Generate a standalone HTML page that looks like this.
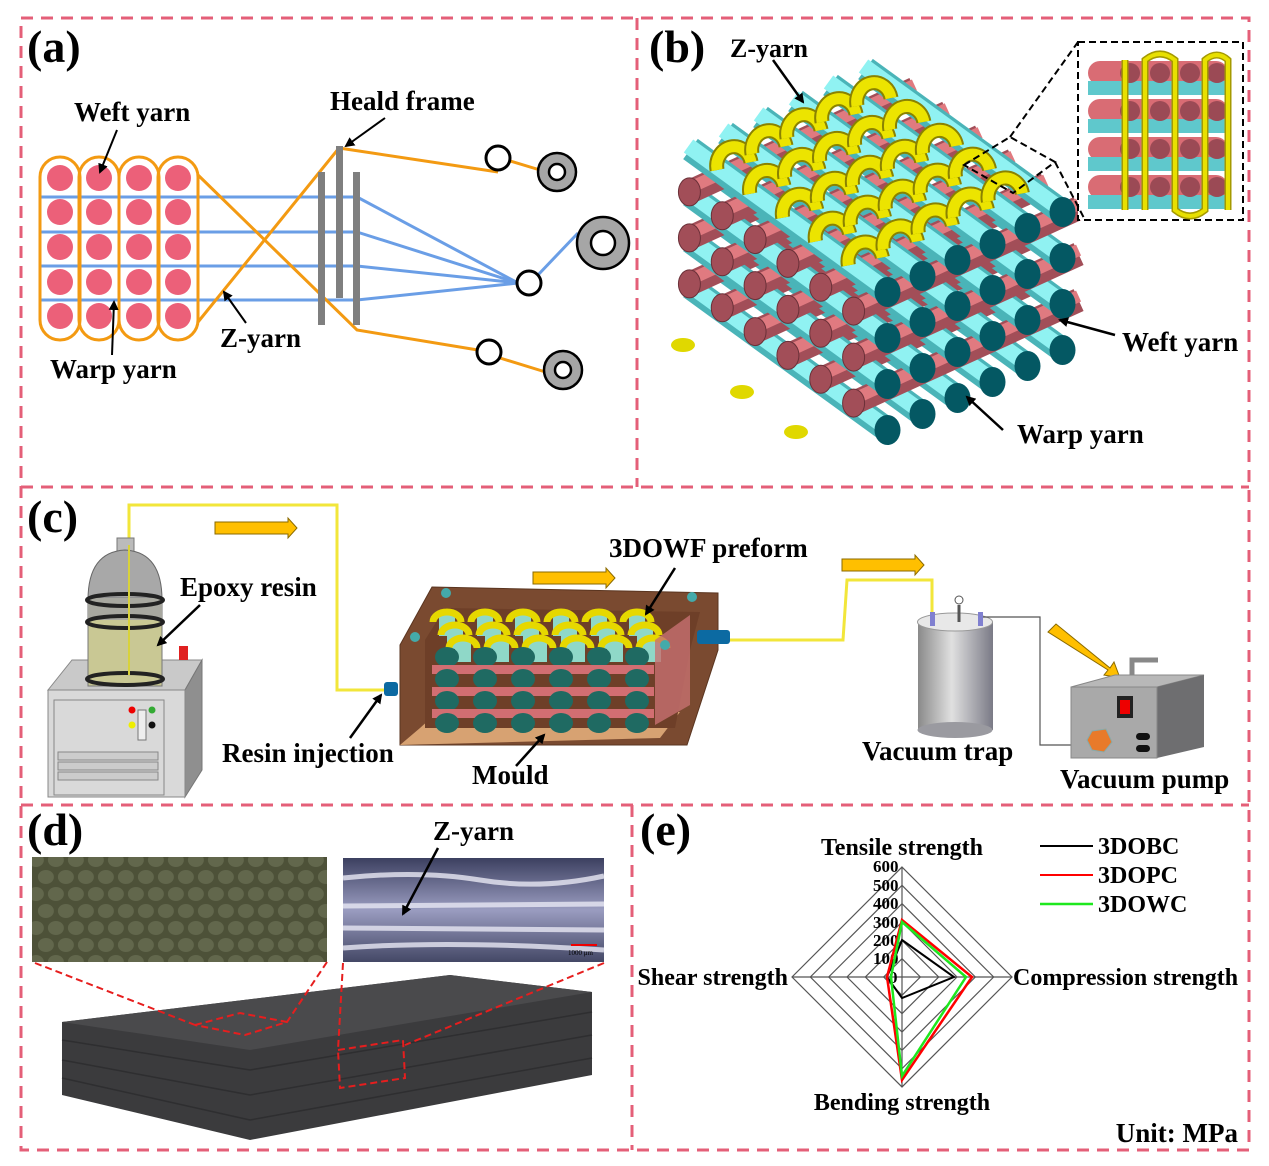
<!DOCTYPE html>
<html><head><meta charset="utf-8"><style>
html,body{margin:0;padding:0;background:#fff}
svg{display:block}
text{font-family:"Liberation Serif",serif;font-weight:bold;fill:#000}
</style></head><body>
<svg id="s" width="1269" height="1166" viewBox="0 0 1269 1166" xmlns="http://www.w3.org/2000/svg">
<defs>
<marker id="ar" markerWidth="10" markerHeight="10" refX="8" refY="5" orient="auto" markerUnits="userSpaceOnUse"><path d="M0,0 L10,5 L0,10 z" fill="#000"/></marker>
<linearGradient id="cyl" x1="0" x2="1"><stop offset="0" stop-color="#8a8a8a"/><stop offset="0.45" stop-color="#e0e0e0"/><stop offset="1" stop-color="#7a7a86"/></linearGradient>
<linearGradient id="ph2" x1="0" x2="0" y1="0" y2="1"><stop offset="0" stop-color="#3c4060"/><stop offset="0.5" stop-color="#9a9cc0"/><stop offset="1" stop-color="#444866"/></linearGradient>
<clipPath id="cpd"><rect x="32" y="857" width="295" height="105"/></clipPath>
</defs>

<g fill="none" stroke="#e45f78" stroke-width="3" stroke-dasharray="12 8">
<rect x="21" y="18" width="1228" height="1132"/>
<line x1="637" y1="18" x2="637" y2="487"/>
<line x1="21" y1="487" x2="1249" y2="487"/>
<line x1="21" y1="805" x2="1249" y2="805"/>
<line x1="632" y1="805" x2="632" y2="1150"/>
</g>

<!-- ===== (a) ===== -->
<text x="27" y="62" font-size="46">(a)</text>
<g id="acirc"></g>
<g stroke="#6a9ee6" stroke-width="3" fill="none">
<line x1="40" y1="197" x2="357" y2="197"/><line x1="40" y1="232" x2="357" y2="232"/>
<line x1="40" y1="266" x2="357" y2="266"/><line x1="40" y1="300" x2="357" y2="300"/>
<line x1="357" y1="197" x2="518" y2="283"/><line x1="357" y1="232" x2="518" y2="283"/>
<line x1="357" y1="266" x2="518" y2="283"/><line x1="357" y1="300" x2="518" y2="283"/>
<line x1="537" y1="276" x2="578" y2="233"/>
</g>
<g stroke="#f39a12" stroke-width="3" fill="none">
<rect x="40" y="157" width="40" height="183" rx="20"/><rect x="79" y="157" width="40" height="183" rx="20"/>
<rect x="119" y="157" width="40" height="183" rx="20"/><rect x="158" y="157" width="40" height="183" rx="20"/>
<polyline points="198,175 357,330 490,352"/>
<polyline points="198,322 339,148 498,172"/>
<line x1="500" y1="358" x2="552" y2="374"/>
<line x1="507" y1="160" x2="540" y2="170"/>
</g>
<g fill="#7f7f7f"><rect x="318" y="172" width="7" height="153"/><rect x="336" y="146" width="7" height="152"/><rect x="353" y="172" width="7" height="153"/></g>
<g stroke="#000" stroke-width="3" fill="#fff">
<circle cx="498" cy="158" r="12"/><circle cx="529" cy="283" r="12"/><circle cx="489" cy="352" r="12"/>
</g>
<g stroke="#000" stroke-width="2.5" fill="#a6a6a6">
<circle cx="557" cy="172" r="19"/><circle cx="603" cy="243" r="26"/><circle cx="563" cy="370" r="19"/>
</g>
<g stroke="#000" stroke-width="2.5" fill="#fff">
<circle cx="557" cy="172" r="8"/><circle cx="603" cy="243" r="12"/><circle cx="563" cy="370" r="8"/>
</g>
<text x="74" y="121" font-size="27">Weft yarn</text>
<text x="330" y="110" font-size="27">Heald frame</text>
<text x="50" y="378" font-size="27">Warp yarn</text>
<text x="220" y="347" font-size="27">Z-yarn</text>
<g stroke="#000" stroke-width="2" marker-end="url(#ar)">
<line x1="117" y1="130" x2="100" y2="172"/>
<line x1="385" y1="118" x2="346" y2="146"/>
<line x1="112" y1="355" x2="114" y2="302"/>
<line x1="246" y1="323" x2="224" y2="292"/>
</g>

<!-- ===== (b) ===== -->
<text x="649" y="62" font-size="46">(b)</text>
<g id="cube"></g>
<rect x="1078" y="42" width="165" height="178" fill="#fff" stroke="#000" stroke-width="2" stroke-dasharray="7 4"/>
<g id="inset"></g>
<g fill="none" stroke="#000" stroke-width="2" stroke-dasharray="7 4">
<polygon points="964,165 1010,137 1055,162 1013,193"/>
<line x1="1010" y1="137" x2="1078" y2="42"/>
<line x1="1055" y1="162" x2="1085" y2="220"/>
</g>
<text x="730" y="57" font-size="26">Z-yarn</text>
<text x="1122" y="351" font-size="27">Weft yarn</text>
<text x="1017" y="443" font-size="27">Warp yarn</text>
<g stroke="#000" stroke-width="2.5" marker-end="url(#ar)">
<line x1="773" y1="60" x2="803" y2="102"/>
<line x1="1115" y1="335" x2="1060" y2="320"/>
<line x1="1003" y1="430" x2="967" y2="397"/>
</g>

<!-- ===== (c) ===== -->
<text x="27" y="532" font-size="46">(c)</text>
<polyline points="129,690 129,505 337,505 337,690 385,690" fill="none" stroke="#f2e63a" stroke-width="3"/>
<g fill="#ffbf00" stroke="#8a6a00" stroke-width="1">
<polygon points="215,522 288,522 288,518 297,528 288,538 288,534 215,534"/>
<polygon points="533,572 606,572 606,568 615,578 606,588 606,584 533,584"/>
<polygon points="842,559 915,559 915,555 924,565 915,575 915,571 842,571"/>
<polygon points="1048,632 1056,624 1110,668 1114,662 1120,678 1104,675 1108,670"/>
</g>
<polygon points="48,690 72,660 202,660 185,690" fill="#c9c9c9" stroke="#888"/>
<polygon points="185,690 202,660 202,770 185,797" fill="#8f8f8f" stroke="#777"/>
<rect x="48" y="690" width="137" height="107" fill="#d9d9d9" stroke="#888"/>
<rect x="54" y="700" width="110" height="95" fill="none" stroke="#888"/>
<g stroke="#888" fill="#ccc"><rect x="58" y="752" width="100" height="8"/><rect x="58" y="762" width="100" height="8"/><rect x="58" y="772" width="100" height="8"/></g>
<rect x="138" y="710" width="8" height="30" fill="#eee" stroke="#777"/>
<circle cx="132" cy="710" r="3.5" fill="#e00"/><circle cx="152" cy="710" r="3.5" fill="#3a3"/>
<circle cx="132" cy="725" r="3.5" fill="#ee0"/><circle cx="152" cy="725" r="3.5" fill="#111"/>
<rect x="179" y="646" width="9" height="14" fill="#e02020"/>
<rect x="117" y="538" width="17" height="16" fill="#bbb" stroke="#777"/>
<path d="M88,600 Q88,552 125,550 Q162,552 162,600 Z" fill="#a8a8a8" stroke="#666"/>
<rect x="88" y="598" width="74" height="88" fill="#c9c894" stroke="#777"/>
<rect x="88" y="598" width="74" height="22" fill="#a8a8a0"/>
<ellipse cx="125" cy="600" rx="38" ry="6" fill="none" stroke="#222" stroke-width="4"/>
<ellipse cx="125" cy="622" rx="38" ry="6" fill="none" stroke="#222" stroke-width="4"/>
<ellipse cx="125" cy="679" rx="38" ry="6" fill="none" stroke="#222" stroke-width="4"/>
<line x1="129" y1="545" x2="129" y2="675" stroke="#d8d23a" stroke-width="2"/>
<polygon points="400,645 432,587 718,593 718,650 687,745 400,745" fill="#7a4a30" stroke="#5a3520"/>
<polygon points="420,728 440,710 680,712 660,738 400,745" fill="#d7a272"/>
<polygon points="425,640 445,608 700,612 690,650 675,728 425,728" fill="#6e3f28"/>
<g id="preform"></g>
<rect x="384" y="682" width="14" height="14" rx="3" fill="#0c6aa2"/>
<rect x="697" y="630" width="33" height="14" rx="3" fill="#0c6aa2"/>
<circle cx="446" cy="593" r="5" fill="#4aa"/><circle cx="692" cy="597" r="5" fill="#4aa"/><circle cx="415" cy="637" r="5" fill="#4aa"/><circle cx="665" cy="645" r="5" fill="#4aa"/>
<polyline points="730,640 843,640 847,580 932,580 932,622" fill="none" stroke="#f2e63a" stroke-width="3"/>
<rect x="918" y="622" width="75" height="108" fill="url(#cyl)"/>
<ellipse cx="955" cy="730" rx="37.5" ry="8" fill="#9a9aa0"/>
<ellipse cx="955" cy="622" rx="37.5" ry="9" fill="#e8e8e8" stroke="#999"/>
<rect x="930" y="612" width="5" height="14" fill="#8080d0"/><rect x="978" y="612" width="5" height="14" fill="#8080d0"/>
<line x1="959" y1="605" x2="959" y2="622" stroke="#555" stroke-width="3"/><circle cx="959" cy="600" r="4" fill="#fff" stroke="#555"/>
<polyline points="983,617 1040,617 1040,745 1095,745" fill="none" stroke="#555" stroke-width="1.2"/>
<polygon points="1071,687 1115,675 1204,675 1157,687" fill="#b8b8b8" stroke="#888"/>
<polygon points="1157,687 1204,675 1204,747 1157,758" fill="#6e6e70"/>
<rect x="1071" y="687" width="86" height="71" fill="#a9a9a9" stroke="#888"/>
<rect x="1117" y="696" width="16" height="22" fill="#222"/><rect x="1120" y="700" width="10" height="14" fill="#e00"/>
<polygon points="1092,731 1106,729 1112,742 1104,752 1092,750 1087,740" fill="#e87a2a" stroke="#8aa"/>
<rect x="1136" y="733" width="14" height="7" rx="3.5" fill="#111"/><rect x="1136" y="745" width="14" height="7" rx="3.5" fill="#111"/>
<polyline points="1132,675 1132,660 1158,660" fill="none" stroke="#888" stroke-width="5"/>
<text x="180" y="596" font-size="27">Epoxy resin</text>
<text x="609" y="557" font-size="27">3DOWF preform</text>
<text x="222" y="762" font-size="27">Resin injection</text>
<text x="472" y="784" font-size="27">Mould</text>
<text x="862" y="760" font-size="27">Vacuum trap</text>
<text x="1060" y="788" font-size="27">Vacuum pump</text>
<g stroke="#000" stroke-width="2.5" marker-end="url(#ar)">
<line x1="200" y1="605" x2="158" y2="645"/>
<line x1="675" y1="568" x2="646" y2="614"/>
<line x1="350" y1="738" x2="381" y2="695"/>
<line x1="516" y1="766" x2="544" y2="735"/>
</g>

<!-- ===== (d) ===== -->
<text x="27" y="845" font-size="46">(d)</text>
<rect x="32" y="857" width="295" height="105" fill="#4d5138"/>
<g id="tex" clip-path="url(#cpd)"></g>
<rect x="343" y="858" width="261" height="104" fill="url(#ph2)"/>
<g stroke="#e8e8f4" stroke-width="5" fill="none" opacity="0.8">
<path d="M343,878 Q420,870 480,880 T604,876"/><path d="M343,906 L604,904"/><path d="M343,928 L604,930"/><path d="M343,948 Q450,940 604,950"/>
</g>
<line x1="571" y1="945" x2="597" y2="945" stroke="#e00" stroke-width="2"/>
<text x="568" y="955" font-size="7" style="font-weight:normal">1000 μm</text>
<text x="433" y="840" font-size="27">Z-yarn</text>
<line x1="438" y1="848" x2="403" y2="914" stroke="#000" stroke-width="2.5" marker-end="url(#ar)"/>
<polygon points="62,1022 450,975 592,992 592,1075 250,1140 62,1095" fill="#3b3b3d"/>
<polygon points="62,1022 450,975 592,992 250,1050" fill="#4a4a4c"/>
<g stroke="#2e2e30" stroke-width="1.5">
<line x1="62" y1="1040" x2="250" y2="1070"/><line x1="62" y1="1060" x2="250" y2="1095"/><line x1="62" y1="1078" x2="250" y2="1120"/>
<line x1="250" y1="1070" x2="592" y2="1012"/><line x1="250" y1="1095" x2="592" y2="1035"/><line x1="250" y1="1120" x2="592" y2="1058"/>
</g>
<g fill="none" stroke="#e61e1e" stroke-width="2" stroke-dasharray="7 4">
<line x1="35" y1="963" x2="195" y2="1025"/><line x1="327" y1="962" x2="285" y2="1025"/>
<polygon points="195,1025 240,1013 287,1022 245,1035"/>
<line x1="343" y1="963" x2="338" y2="1050"/><line x1="604" y1="963" x2="405" y2="1045"/>
<polygon points="338,1050 403,1040 405,1078 340,1088"/>
</g>

<!-- ===== (e) ===== -->
<text x="640" y="845" font-size="46">(e)</text>
<g id="radar" fill="none" stroke="#555" stroke-width="1.2"></g>
<g font-size="17">
<text x="873" y="872">600</text><text x="873" y="891">500</text><text x="873" y="909">400</text>
<text x="873" y="928">300</text><text x="873" y="946">200</text><text x="873" y="964">100</text><text x="889" y="983">0</text>
</g>
<polygon points="902,940 954,977 902,998 887,977" fill="none" stroke="#000" stroke-width="2"/>
<polygon points="902,920 972,977 902,1080 887,977" fill="none" stroke="#f00" stroke-width="2.5"/>
<polygon points="902,922 966,977 902,1076 891,977" fill="none" stroke="#1ee81e" stroke-width="2.5"/>
<text x="902" y="855" font-size="24" text-anchor="middle">Tensile strength</text>
<text x="1013" y="985" font-size="24">Compression strength</text>
<text x="788" y="985" font-size="24" text-anchor="end">Shear strength</text>
<text x="902" y="1110" font-size="24" text-anchor="middle">Bending strength</text>
<line x1="1040" y1="846" x2="1093" y2="846" stroke="#000" stroke-width="2"/>
<line x1="1040" y1="875" x2="1093" y2="875" stroke="#f00" stroke-width="2"/>
<line x1="1040" y1="904" x2="1093" y2="904" stroke="#1ee81e" stroke-width="2.5"/>
<text x="1098" y="854" font-size="24">3DOBC</text>
<text x="1098" y="883" font-size="24">3DOPC</text>
<text x="1098" y="912" font-size="24">3DOWC</text>
<text x="1238" y="1142" font-size="27" text-anchor="end">Unit: MPa</text>
</svg>
<script>
var NS="http://www.w3.org/2000/svg";
function el(p,t,a){var e=document.createElementNS(NS,t);for(var k in a)e.setAttribute(k,a[k]);p.appendChild(e);return e;}
var ac=document.getElementById("acirc");
[60,99,139,178].forEach(function(x){[178,212,247,282,316].forEach(function(y){el(ac,"circle",{cx:x,cy:y,r:13,fill:"#ec6079"});});});
var cb=document.getElementById("cube");
var F=[870,300],A=[197,143],Bs=[35,-16],V=46;
for(var k=3;k>=0;k--){
 if(k<3){
 for(var j=0;j<6;j++){
  var sx=F[0]-A[0]+(j+0.5)*A[0]/6, sy=F[1]-A[1]+(j+0.5)*A[1]/6+k*V+23;
  el(cb,"line",{x1:sx,y1:sy,x2:sx+225,y2:sy-103,stroke:"#a24e58","stroke-width":24});
  el(cb,"line",{x1:sx,y1:sy-4,x2:sx+225,y2:sy-107,stroke:"#e07a80","stroke-width":12});
  el(cb,"ellipse",{cx:sx,cy:sy,rx:11,ry:14,fill:"#a24e58",stroke:"#6a3038","stroke-width":1});
 }}
 for(var i=5;i>=0;i--){
  var px=F[0]+(i+0.5)*Bs[0], py=F[1]+(i+0.5)*Bs[1]+k*V;
  el(cb,"line",{x1:px,y1:py,x2:px-A[0],y2:py-A[1],stroke:"#4ab4b8","stroke-width":25});
  el(cb,"line",{x1:px-2,y1:py-3,x2:px-A[0]-2,y2:py-A[1]-3,stroke:"#90f2f2","stroke-width":16});
  el(cb,"ellipse",{cx:px,cy:py,rx:13,ry:15,fill:"#045863"});
 }
}
for(var j=0;j<5;j++){for(var i=0;i<5;i++){
 var cx=F[0]-A[0]+(j+0.9)*A[0]/6+(i+0.9)*Bs[0], cy=F[1]-A[1]+(j+0.9)*A[1]/6+(i+0.9)*Bs[1]-6;
 var d="M"+(cx-17)+","+(cy+12)+" A17 19 0 0 1 "+(cx+17)+","+(cy+4);
 el(cb,"path",{d:d,fill:"none",stroke:"#8a8200","stroke-width":15});
 el(cb,"path",{d:d,fill:"none",stroke:"#ece400","stroke-width":11});
}}
[[683,345],[742,392],[796,432]].forEach(function(p){el(cb,"ellipse",{cx:p[0],cy:p[1],rx:12,ry:7,fill:"#e0d800"});});
var ins=document.getElementById("inset");
for(var r=0;r<4;r++){
 var y=73+r*38;
 el(ins,"rect",{x:1088,y:y-12,width:140,height:24,fill:"#d96c74",rx:12});
 el(ins,"rect",{x:1088,y:y+8,width:140,height:14,fill:"#5fc8cc"});
 [1130,1160,1190,1217].forEach(function(x){el(ins,"circle",{cx:x,cy:y,r:10,fill:"#9b4a55"});});
}
var sp="M1125,60 L1125,210 M1145,210 L1145,60 Q1160,48 1175,60 L1175,210 Q1190,222 1205,210 L1205,60 Q1217,50 1228,60 L1228,210";
el(ins,"path",{d:sp,fill:"none",stroke:"#a59a00","stroke-width":7});
el(ins,"path",{d:sp,fill:"none",stroke:"#e8e000","stroke-width":4});
var pf=document.getElementById("preform");
for(var r=0;r<3;r++){for(var c=0;c<6;c++){
 var x=447+c*38+ r*8, y=616+r*13;
 el(pf,"rect",{x:x-8,y:y-2,width:16,height:22,fill:"#8fd8c8"});
 el(pf,"path",{d:"M"+(x-14)+","+(y+6)+" A14 10 0 0 1 "+(x+14)+","+(y+6),fill:"none",stroke:"#e6d800","stroke-width":7});
}}
for(var r=0;r<4;r++){
 var y=657+r*22;
 if(r>0) el(pf,"rect",{x:432,y:y-14,width:222,height:9,fill:"#d26e72"});
 for(var c=0;c<6;c++){el(pf,"ellipse",{cx:447+c*38,cy:y,rx:12,ry:10,fill:"#1f6a62"});}
}
el(pf,"polygon",{points:"655,640 690,615 690,705 655,725",fill:"#c77070",opacity:"0.8"});
var tx=document.getElementById("tex");
for(var y=860;y<965;y+=17){for(var x=30;x<330;x+=20){
 el(tx,"ellipse",{cx:x+((y/17)%2)*10,cy:y,rx:8,ry:7,fill:"#6b7055",opacity:"0.7"});
}}
var rd=document.getElementById("radar");
for(var q=1;q<=6;q++){var rr=18.33*q;
 el(rd,"polygon",{points:(902)+","+(977-rr)+" "+(902+rr)+","+977+" "+902+","+(977+rr)+" "+(902-rr)+","+977});}
el(rd,"line",{x1:902,y1:867,x2:902,y2:1087});el(rd,"line",{x1:792,y1:977,x2:1012,y2:977});
</script>
</body></html>
